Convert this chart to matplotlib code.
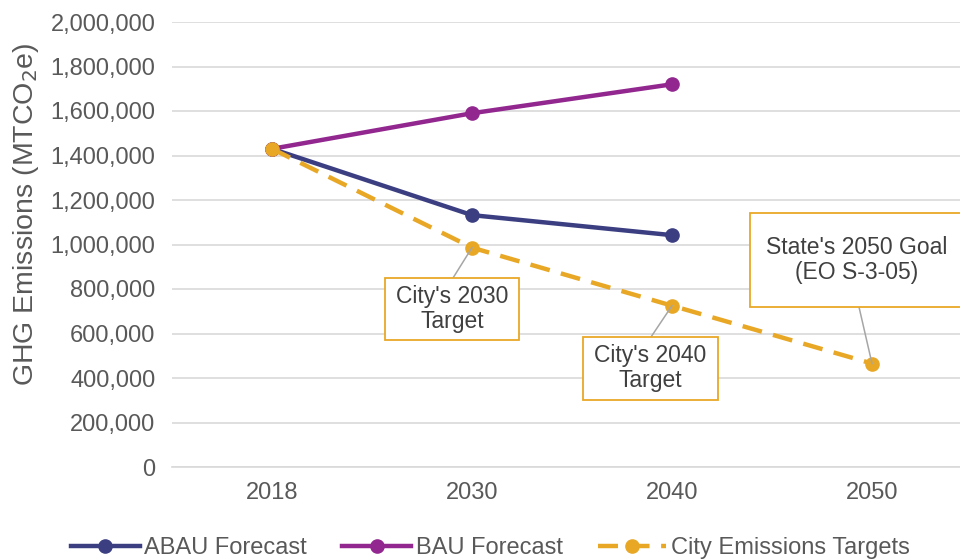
import matplotlib
matplotlib.use("Agg")
import matplotlib.pyplot as plt
from matplotlib.patches import Rectangle
from matplotlib.ticker import FuncFormatter

plt.rcParams["font.family"] = ["Liberation Sans", "DejaVu Sans"]

# data
years = ["2018", "2030", "2040", "2050"]
abau = [1430000, 1132000, 1042000]
bau = [1430000, 1590000, 1720000]
targets = [1430000, 986000, 725000, 465000]

navy = "#3B3F82"
purple = "#92278F"
gold = "#E8A826"
text_gray = "#595959"
grid_gray = "#D9D9D9"

fig = plt.figure(figsize=(9.6, 5.6), dpi=100)
ax = fig.add_axes([172 / 960, 93 / 560, 800 / 960, 445 / 560])

x = list(range(len(years)))
ax.plot(x[:len(abau)], abau, color=navy, lw=3.2, marker="o", ms=9.5,
        label="ABAU Forecast", zorder=3)
ax.plot(x[:len(bau)], bau, color=purple, lw=3.2, marker="o", ms=9.5,
        label="BAU Forecast", zorder=3)
ax.plot(x, targets, color=gold, lw=3.2, marker="o", ms=9.5, dashes=(4.5, 2.6),
        label="City Emissions Targets", zorder=4)

ax.set_xlim(-0.5, 3.5)
ax.set_ylim(0, 2000000)
ax.set_yticks(range(0, 2000001, 200000))
ax.yaxis.set_major_formatter(FuncFormatter(lambda v, p: f"{int(v):,}"))
ax.set_xticks(x)
ax.set_xticklabels(years)
ax.grid(axis="y", color=grid_gray, lw=1.2)
ax.set_axisbelow(True)
for s in ["top", "right", "left"]:
    ax.spines[s].set_visible(False)
ax.spines["bottom"].set_color(grid_gray)
ax.spines["bottom"].set_linewidth(1.2)
ax.tick_params(axis="both", length=0, labelsize=17, labelcolor=text_gray)
ax.tick_params(axis="x", pad=11)
ax.tick_params(axis="y", pad=12)
ylab = ax.set_ylabel("GHG Emissions (MTCO$_2$e)", fontsize=20.5, color=text_gray)
ylab.set_va("center")
ax.yaxis.set_label_coords(-0.183, 0.567)

# callout boxes: (text, text center, box corners, leader start, point index)
callouts = [
    ("City's 2030\nTarget", (0.90, 710000), (0.565, 570800, 0.67, 278600), (0.905, 849400), 1),
    ("City's 2040\nTarget", (1.89, 444900), (1.555, 301100, 0.675, 283200), (1.895, 584300), 2),
    ("State's 2050 Goal\n(EO S-3-05)", (2.925, 930300), (2.39, 719100, 1.2, 422500), (2.935, 719100), 3),
]
for label, (tx, ty), (bx, by, bw, bh), (lx, ly), idx in callouts:
    ax.add_patch(Rectangle((bx, by), bw, bh, fill=True, facecolor="white",
                           edgecolor=gold, lw=1.3, zorder=5, clip_on=False))
    ax.text(tx, ty, label, ha="center", va="center", fontsize=16.5,
            color="#404040", linespacing=1.1, zorder=6)
    ax.plot([lx, idx], [ly, targets[idx]], color="#A6A6A6", lw=1.1, zorder=4.5)

leg = fig.legend(loc="center", bbox_to_anchor=(0.511, 0.021), ncol=3,
                 frameon=False, fontsize=17, handlelength=2.9, handletextpad=0.2,
                 columnspacing=1.5)
for t in leg.get_texts():
    t.set_color(text_gray)

fig.savefig("out.png", dpi=100)
